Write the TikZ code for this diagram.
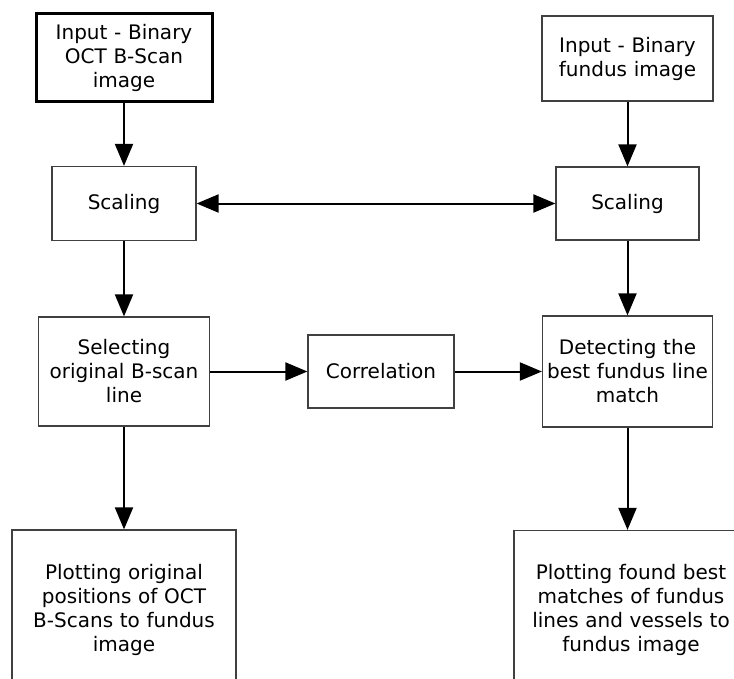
\documentclass[tikz,border=0pt]{standalone}
\usepackage{fontspec}
\setmainfont{DejaVu Sans}
\usepackage{tikz}
\usetikzlibrary{arrows.meta}
\hyphenpenalty=10000

\begin{document}
\begin{tikzpicture}[x=1pt, y=-1pt,
    box/.style={draw=black!75, line width=1.2pt, fill=white, inner sep=0pt, align=center,
        font=\fontsize{20}{24}\selectfont},
    arr/.style={line width=2pt, -{Triangle[length=22pt, width=18pt]}},
    dblarr/.style={line width=2pt, {Triangle[length=22pt, width=18pt]}-{Triangle[length=22pt, width=18pt]}}]
    \useasboundingbox (0,0) rectangle (734,678);
    \clip (0,0) rectangle (734,678);

    % Inputs
    \node[box, draw=black, line width=3pt, minimum width=176, minimum height=88, text width=172]
        (inoct) at (124, 57.5) {Input - Binary\\OCT B-Scan\\image};
    \node[box, minimum width=171, minimum height=85, text width=169]
        (infun) at (627.5, 58.5) {Input - Binary\\fundus image};

    % Scaling
    \node[box, minimum width=144, minimum height=74, text width=140] (scoct) at (124, 203.5) {Scaling};
    \node[box, minimum width=143, minimum height=73, text width=139] (scfun) at (627.5, 203.5) {Scaling};

    % Middle row
    \node[box, minimum width=171, minimum height=109, text width=169]
        (select) at (124, 371.5) {Selecting\\original B-scan\\line};
    \node[box, minimum width=146, minimum height=73, text width=142]
        (corr) at (381, 371.5) {Correlation};
    \node[box, minimum width=170, minimum height=111, text width=169]
        (detect) at (627.5, 371.5) {Detecting the\\best fundus line\\match};

    % Outputs (cut off at the bottom edge)
    \node[box, minimum width=224, minimum height=159, text width=220]
        (plotoct) at (124, 609.5) {Plotting original\\positions of OCT\\B-Scans to fundus\\image};
    \node[box, minimum width=234, minimum height=159, text width=230]
        (plotfun) at (631, 610) {Plotting found best\\matches of fundus\\lines and vessels to\\fundus image};

    % Arrows
    \draw[arr] (inoct) -- (scoct);
    \draw[arr] (scoct) -- (select);
    \draw[arr] (select) -- (select.south |- plotoct.north);
    \draw[arr] (infun) -- (scfun);
    \draw[arr] (scfun) -- (detect);
    \draw[arr] (detect) -- (detect.south |- plotfun.north);
    \draw[dblarr] (scoct) -- (scfun);
    \draw[arr] (select) -- (corr);
    \draw[arr] (corr) -- (detect);

\end{tikzpicture}
\end{document}
